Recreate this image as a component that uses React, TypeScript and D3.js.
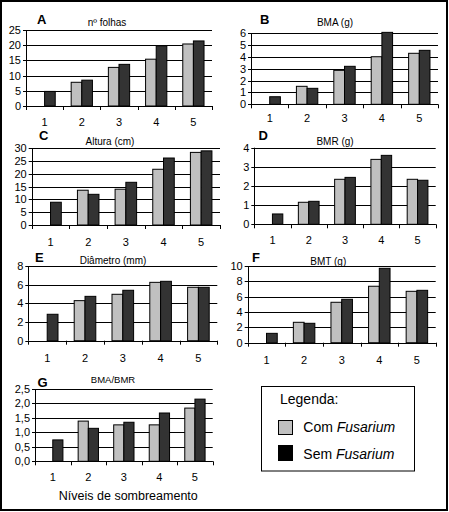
import React from "react";
import * as d3 from "d3";

const categories = ["1", "2", "3", "4", "5"];

const folhasCom = [null, 7.8, 12.7, 15.4, 20.4];
const folhasSem = [4.8, 8.5, 13.7, 19.8, 21.4];
const folhasTicks = [0, 5, 10, 15, 20, 25];

const bmaCom = [null, 1.52, 2.87, 4.02, 4.31];
const bmaSem = [0.64, 1.35, 3.21, 6.08, 4.56];
const bmaTicks = [0, 1, 2, 3, 4, 5, 6];

const alturaCom = [null, 13.6, 14.0, 21.8, 28.4];
const alturaSem = [8.9, 12.0, 16.7, 26.2, 29.0];
const alturaTicks = [0, 5, 10, 15, 20, 25, 30];

const bmrCom = [null, 1.15, 2.35, 3.39, 2.35];
const bmrSem = [0.54, 1.2, 2.45, 3.6, 2.3];
const bmrTicks = [0, 1, 2, 3, 4];

const diamCom = [null, 4.29, 4.97, 6.25, 5.72];
const diamSem = [2.83, 4.75, 5.4, 6.36, 5.72];
const diamTicks = [0, 2, 4, 6, 8];

const bmtCom = [null, 2.66, 5.27, 7.36, 6.7];
const bmtSem = [1.22, 2.53, 5.66, 9.7, 6.83];
const bmtTicks = [0, 2, 4, 6, 8, 10];

const ratioCom = [null, 1.39, 1.26, 1.26, 1.84];
const ratioSem = [0.74, 1.14, 1.35, 1.67, 2.15];
const ratioTicks = [0, 0.5, 1.0, 1.5, 2.0, 2.5];

const seriesNames = ["com", "sem"];
const legendLabels = ["Com", "Sem"];

const FONT = "'Liberation Sans', Arial, sans-serif";
const LIGHT = "#c0c0c0";
const DARK = "#333333";

type Panel = {
  letter: string;
  title: string;
  com: (number | null)[];
  sem: (number | null)[];
  ticks: number[];
  fmt: (v: number) => string;
  x0: number;
  x1: number;
  yTop: number;
  yBot: number;
  letterX: number;
  letterY: number;
  titleX: number;
  titleY: number;
  titleSize: number;
  labelY: number;
};

const intFmt = (v: number) => String(v);
const commaFmt = (v: number) => d3.format(".1f")(v).replace(".", ",");

const panels: Panel[] = [
  { letter: "A", title: "nº folhas", com: folhasCom, sem: folhasSem, ticks: folhasTicks, fmt: intFmt,
    x0: 26, x1: 212, yTop: 30, yBot: 106, letterX: 37, letterY: 24, titleX: 107, titleY: 25.5, titleSize: 10, labelY: 125.5 },
  { letter: "B", title: "BMA (g)", com: bmaCom, sem: bmaSem, ticks: bmaTicks, fmt: intFmt,
    x0: 251, x1: 438, yTop: 33.3, yBot: 104.3, letterX: 260, letterY: 24, titleX: 335, titleY: 25.5, titleSize: 10, labelY: 122 },
  { letter: "C", title: "Altura (cm)", com: alturaCom, sem: alturaSem, ticks: alturaTicks, fmt: intFmt,
    x0: 31.7, x1: 220, yTop: 148.3, yBot: 225, letterX: 39, letterY: 139.5, titleX: 110, titleY: 145, titleSize: 10, labelY: 245.5 },
  { letter: "D", title: "BMR (g)", com: bmrCom, sem: bmrSem, ticks: bmrTicks, fmt: intFmt,
    x0: 254.3, x1: 435.7, yTop: 147.7, yBot: 224.3, letterX: 258.5, letterY: 139.5, titleX: 335, titleY: 144.5, titleSize: 10, labelY: 244 },
  { letter: "E", title: "Diâmetro (mm)", com: diamCom, sem: diamSem, ticks: diamTicks, fmt: intFmt,
    x0: 28.3, x1: 217.3, yTop: 266, yBot: 340.7, letterX: 35, letterY: 261.5, titleX: 113, titleY: 263.5, titleSize: 10, labelY: 362 },
  { letter: "F", title: "BMT (g)", com: bmtCom, sem: bmtSem, ticks: bmtTicks, fmt: intFmt,
    x0: 247.7, x1: 435.7, yTop: 266, yBot: 342.7, letterX: 252, letterY: 262, titleX: 328.3, titleY: 265, titleSize: 10, labelY: 364 },
  { letter: "G", title: "BMA/BMR", com: ratioCom, sem: ratioSem, ticks: ratioTicks, fmt: commaFmt,
    x0: 35, x1: 212.7, yTop: 389, yBot: 461.3, letterX: 37.5, letterY: 386.5, titleX: 113, titleY: 382.5, titleSize: 9.5, labelY: 481 },
];

function ChartPanel({ p }: { p: Panel }) {
  const x = d3.scaleBand<string>().domain(categories).range([p.x0, p.x1]).paddingInner(0).paddingOuter(0);
  const inner = d3.scaleBand<string>().domain(seriesNames).range([0, x.bandwidth()]).paddingInner(0).paddingOuter(0.75);
  const y = d3.scaleLinear().domain([0, p.ticks[p.ticks.length - 1]]).range([p.yBot, p.yTop]);
  const tickXs = [...categories.map((c) => x(c) as number), p.x1];
  return (
    <g>
      <text x={p.letterX} y={p.letterY} fontFamily={FONT} fontWeight="bold" fontSize={13}>{p.letter}</text>
      <text x={p.titleX} y={p.titleY} fontFamily={FONT} fontSize={p.titleSize} textAnchor="middle">{p.title}</text>
      {p.ticks.map((t) => (
        <g key={t}>
          <line x1={p.x0 - 3} x2={p.x1} y1={Math.round(y(t)) + 0.5} y2={Math.round(y(t)) + 0.5} stroke="#000" strokeWidth={1} />
          <text x={p.x0 - 5} y={y(t) + 4} fontFamily={FONT} fontSize={11} textAnchor="end">{p.fmt(t)}</text>
        </g>
      ))}
      {categories.map((c, i) => (
        <g key={c}>
          {[p.com[i], p.sem[i]].map((v, j) =>
            v == null ? null : (
              <rect key={j}
                x={(x(c) as number) + (inner(seriesNames[j]) as number)}
                y={y(v)}
                width={inner.bandwidth()}
                height={p.yBot - y(v)}
                fill={j === 0 ? LIGHT : DARK}
                stroke="#000"
                strokeWidth={1}
              />
            )
          )}
          <text x={(x(c) as number) + x.bandwidth() / 2} y={p.labelY} fontFamily={FONT} fontSize={11} textAnchor="middle">{c}</text>
        </g>
      ))}
      <line x1={Math.round(p.x0) + 0.5} x2={Math.round(p.x0) + 0.5} y1={p.yTop} y2={p.yBot} stroke="#000" />
      <line x1={p.x0} x2={p.x1} y1={Math.round(p.yBot) + 0.5} y2={Math.round(p.yBot) + 0.5} stroke="#000" />
      {tickXs.map((tx, i) => (
        <line key={i} x1={Math.round(tx) + 0.5} x2={Math.round(tx) + 0.5} y1={p.yBot} y2={p.yBot + 4} stroke="#000" />
      ))}
    </g>
  );
}

export default function App() {
  return (
    <div style={{ position: "fixed", left: 0, top: 0 }}>
      <svg width={449} height={512} style={{ display: "block", background: "#fff" }}>
        <rect x={0} y={0} width={449} height={512} fill="#fff" />
        <rect x={1} y={1} width={446} height={509} fill="none" stroke="#000" strokeWidth={2} />
        {panels.map((p) => (
          <ChartPanel key={p.letter} p={p} />
        ))}
        <text x={128.3} y={499.5} fontFamily={FONT} fontSize={12.5} textAnchor="middle">Níveis de sombreamento</text>
        <rect x={261.5} y={386.5} width={153} height={84.5} fill="#fff" stroke="#000" strokeWidth={1} />
        <text x={280} y={404} fontFamily={FONT} fontSize={14}>Legenda:</text>
        <rect x={278.5} y={420.5} width={14} height={14} fill={LIGHT} stroke="#000" />
        <text x={303.3} y={432.3} fontFamily={FONT} fontSize={14}>
          {legendLabels[0]} <tspan fontStyle="italic">Fusarium</tspan>
        </text>
        <rect x={278.5} y={445.5} width={14} height={15} fill="#000" stroke="#000" />
        <text x={303.3} y={459} fontFamily={FONT} fontSize={14}>
          {legendLabels[1]} <tspan fontStyle="italic">Fusarium</tspan>
        </text>
      </svg>
    </div>
  );
}
